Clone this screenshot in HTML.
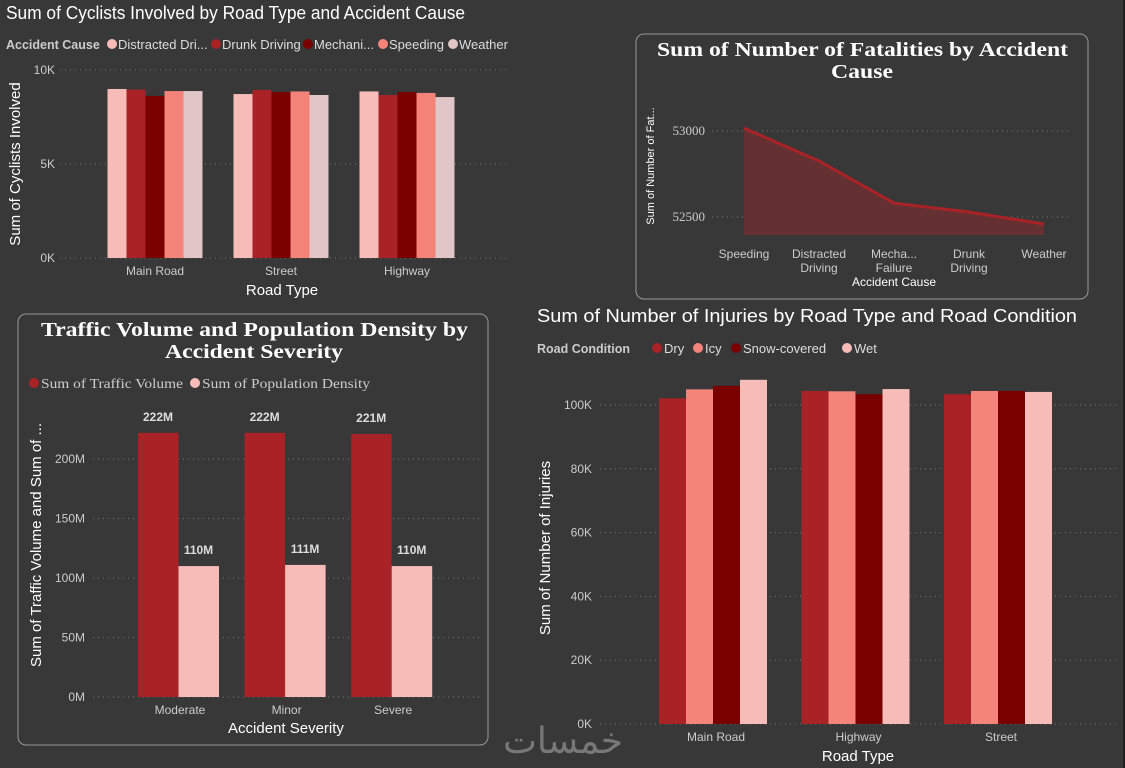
<!DOCTYPE html>
<html><head><meta charset="utf-8"><style>
body{margin:0;background:#383838;width:1125px;height:768px;overflow:hidden;font-family:"Liberation Sans",sans-serif}
svg{position:absolute;left:0;top:0}
</style></head><body>
<svg id="s" width="1125" height="768">
<rect x="0" y="0" width="1125" height="768" fill="#383838"/>
<rect x="1123" y="0" width="2" height="768" fill="#222"/>
</svg>
<script>
const cyclistCats=["Main Road","Street","Highway"];
const cyclistCauses=["Distracted Dri...","Drunk Driving","Mechani...","Speeding","Weather"];
const cyclistVals=[[8.99,8.72,8.86],[8.96,8.94,8.67],[8.62,8.83,8.83],[8.88,8.86,8.78],[8.88,8.67,8.56]];
const cyclistTicks=[0,5,10];
const fatCats=[["Speeding"],["Distracted","Driving"],["Mecha...","Failure"],["Drunk","Driving"],["Weather"]];
const fatVals=[53017,52826,52581,52529,52459];
const fatTicks=[52500,53000];
const sevCats=["Moderate","Minor","Severe"];
const trafficVals=[222,222,221];
const popVals=[110,111,110];
const sevTicks=[0,50,100,150,200];
const injCats=["Main Road","Highway","Street"];
const injConds=["Dry","Icy","Snow-covered","Wet"];
const injVals=[[102.1,104.4,103.4],[104.9,104.3,104.4],[106.0,103.4,104.4],[107.9,105.0,104.1]];
const injTicks=[0,20,40,60,80,100];

const S=document.getElementById('s');const NS="http://www.w3.org/2000/svg";
function el(t,a,txt){const e=document.createElementNS(NS,t);for(const k in a)e.setAttribute(k,a[k]);if(txt!==undefined)e.textContent=txt;S.appendChild(e);return e;}
function grid(x1,x2,y){const g=el('line',{x1:x1,x2:x2,y1:y,y2:y,stroke:'#777','stroke-dasharray':'1 4','stroke-width':1});}
function txt(x,y,s,o){const a=Object.assign({x:x,y:y,fill:'#ddd','font-size':12,'font-family':'"Liberation Sans",sans-serif'},o||{});const t=el('text',a,s);return t;}
const fit={lengthAdjust:'spacingAndGlyphs'};

// ---------- Chart 1: cyclists ----------
let t=txt(6,19,"Sum of Cyclists Involved by Road Type and Accident Cause",Object.assign({'font-size':18,fill:'#fff',textLength:459},fit));

const c1col=["#f7bcb8","#a82226","#7a0000","#f4837a","#e0c6c6"];
t=txt(6,49,"Accident Cause",{'font-weight':'bold',fill:'#ccc','font-size':12.5});

const c1lx=[106,210,302,377,447];
cyclistCauses.forEach((c,i)=>{const g=el('circle',{cx:c1lx[i]+6,cy:44,r:5,fill:c1col[i]});
const tt=txt(c1lx[i]+12,49,c,{'font-size':13,fill:'#ddd'});});
const y1=v=>258-v/10*188, x1c=i=>155+i*126;
cyclistTicks.forEach(v=>{grid(60,508,y1(v));const l=txt(55,y1(v)+4,v+"K",{'text-anchor':'end','font-size':12,fill:'#ccc'});});
cyclistVals.forEach((ser,s)=>ser.forEach((v,i)=>{const b=el('rect',{x:x1c(i)-47.5+s*19,y:y1(v),width:19,height:y1(0)-y1(v),fill:c1col[s]});}));
cyclistCats.forEach((c,i)=>{const l=txt(x1c(i),275,c,{'text-anchor':'middle','font-size':12,fill:'#ccc'});});
t=txt(282,295,"Road Type",{'text-anchor':'middle','font-size':15,fill:'#fff'});
t=txt(0,0,"Sum of Cyclists Involved",{'text-anchor':'middle','font-size':15,fill:'#fff',transform:'translate(20,164) rotate(-90)'});

// ---------- Chart 2: fatalities ----------
const sf='"Liberation Serif",serif';
let p=el('rect',{x:636,y:34,width:452,height:265,rx:8,fill:'none',stroke:'#999','stroke-width':1});
t=txt(657,56,"Sum of Number of Fatalities by Accident",Object.assign({'font-size':20,'font-weight':'bold',fill:'#fff','font-family':sf,textLength:411},fit));
t=txt(862,78,"Cause",Object.assign({'text-anchor':'middle','font-size':20,'font-weight':'bold',fill:'#fff','font-family':sf,textLength:62},fit));
const y2=v=>217-(v-52500)/500*86, x2=i=>744+i*75;
fatTicks.forEach(v=>{grid(712,1072,y2(v));const l=txt(705,y2(v)+4,String(v),{'text-anchor':'end','font-size':13,fill:'#ccc','font-family':sf});});
let pts=fatVals.map((v,i)=>x2(i)+","+y2(v)).join(" ");
p=el('polygon',{points:pts+" "+x2(fatVals.length-1)+",235 "+x2(0)+",235",fill:'#653032'});
p=el('polyline',{points:pts,fill:'none',stroke:'#a82226','stroke-width':3});
fatCats.forEach((c,i)=>c.forEach((w,j)=>{const l=txt(x2(i),258+j*14,w,{'text-anchor':'middle','font-size':12,fill:'#ccc'});}));
t=txt(894,286,"Accident Cause",{'text-anchor':'middle','font-size':12,fill:'#fff'});
t=txt(0,0,"Sum of Number of Fat...",{'text-anchor':'middle','font-size':11,fill:'#fff',transform:'translate(654,166) rotate(-90)'});

// ---------- Chart 3: traffic ----------
p=el('rect',{x:18,y:314,width:470,height:431,rx:8,fill:'none',stroke:'#999','stroke-width':1});
t=txt(41,336,"Traffic Volume and Population Density by",Object.assign({'font-size':20,'font-weight':'bold',fill:'#fff','font-family':sf,textLength:427},fit));
t=txt(254,358,"Accident Severity",Object.assign({'text-anchor':'middle','font-size':20,'font-weight':'bold',fill:'#fff','font-family':sf,textLength:178},fit));
const c3=["#a82226","#f7bcb8"];const l3=["Sum of Traffic Volume","Sum of Population Density"];const l3x=[28,189];const l3w=[142,168];
l3.forEach((c,i)=>{const g=el('circle',{cx:l3x[i]+6,cy:383,r:5,fill:c3[i]});
const tt=txt(l3x[i]+13,388,c,Object.assign({'font-size':14,fill:'#ccc','font-family':sf,textLength:l3w[i]},fit));});
const y3=v=>697-v*1.19, x3=i=>178+i*106.6;
sevTicks.forEach(v=>{grid(93,480,y3(v));const l=txt(85,y3(v)+4,v+"M",{'text-anchor':'end','font-size':12,fill:'#ccc'});});
[trafficVals,popVals].forEach((ser,s)=>ser.forEach((v,i)=>{const bx=x3(i)-40+s*40.5;const b=el('rect',{x:bx,y:y3(v),width:40.5,height:y3(0)-y3(v),fill:c3[s]});
const l=txt(bx+20,y3(v)-12,v+"M",{'text-anchor':'middle','font-size':12,'font-weight':'bold',fill:'#ddd'});}));
sevCats.forEach((c,i)=>{const l=txt(x3(i)+2,714,c,{'text-anchor':'middle','font-size':12,fill:'#ccc'});});
t=txt(286,733,"Accident Severity",{'text-anchor':'middle','font-size':15,fill:'#fff'});
t=txt(0,0,"Sum of Traffic Volume and Sum of ...",{'text-anchor':'middle','font-size':15,fill:'#fff',transform:'translate(41,545) rotate(-90)'});

// ---------- Chart 4: injuries ----------
t=txt(537,322,"Sum of Number of Injuries by Road Type and Road Condition",Object.assign({'font-size':18,fill:'#fff',textLength:540},fit));
t=txt(537,353,"Road Condition",{'font-weight':'bold',fill:'#ccc','font-size':12.5});
const c4=["#a82226","#f4837a","#7a0000","#f7bcb8"];const l4x=[651,692,730,841];
injConds.forEach((c,i)=>{const g=el('circle',{cx:l4x[i]+6,cy:348,r:5,fill:c4[i]});
const tt=txt(l4x[i]+13,353,c,{'font-size':13,fill:'#ddd'});});
const y4=v=>724-v/100*319, x4=i=>713+i*142.5;
injTicks.forEach(v=>{grid(600,1118,y4(v));const l=txt(592,y4(v)+4,v+"K",{'text-anchor':'end','font-size':12,fill:'#ccc'});});
injVals.forEach((ser,s)=>ser.forEach((v,i)=>{const b=el('rect',{x:x4(i)-54+s*27,y:y4(v),width:27,height:y4(0)-y4(v),fill:c4[s]});}));
injCats.forEach((c,i)=>{const l=txt(x4(i)+3,741,c,{'text-anchor':'middle','font-size':12,fill:'#ccc'});});
t=txt(858,761,"Road Type",{'text-anchor':'middle','font-size':15,fill:'#fff'});
t=txt(0,0,"Sum of Number of Injuries",{'text-anchor':'middle','font-size':15,fill:'#fff',transform:'translate(550,548) rotate(-90)'});

// watermark
t=txt(563,753,"خمسات",{'text-anchor':'middle','font-size':36,fill:'#888','font-family':'"Liberation Sans","WenQuanYi Zen Hei","DejaVu Sans",sans-serif','opacity':0.8});
</script>
</body></html>
